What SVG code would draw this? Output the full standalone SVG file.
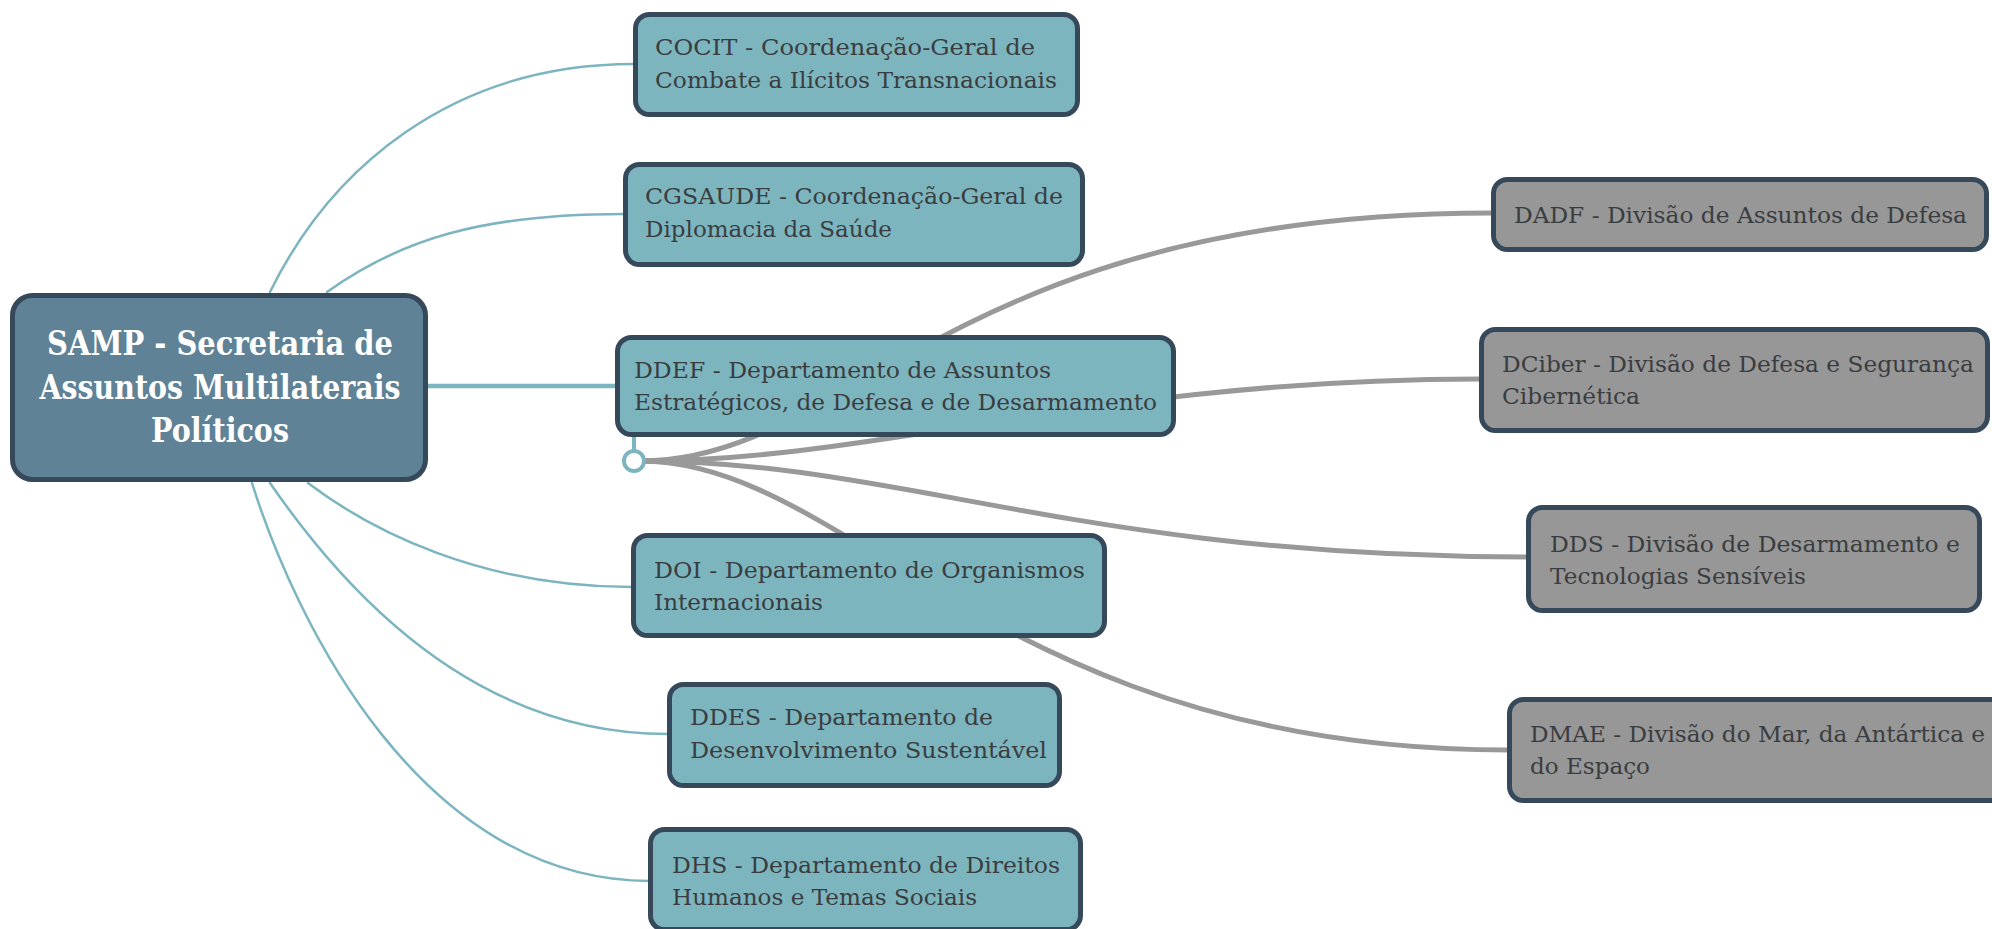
<svg xmlns="http://www.w3.org/2000/svg" width="1992" height="929" viewBox="0 0 1992 929">
<style>
.bg{fill:#ffffff}
.tl{fill:none;stroke:#7cb5c0;stroke-width:2.5;stroke-linecap:round}
.tlw{fill:none;stroke:#7cb5c0;stroke-width:4.5}
.gl{fill:none;stroke:#999999;stroke-width:5;stroke-linecap:round}
.node{stroke:#35495b;stroke-width:5}
.teal{fill:#7db5bf}
.gray{fill:#979797}
.root{fill:#5f8296}
.t{font-family:"DejaVu Serif","Liberation Serif",serif;font-size:23px;fill:#3a3d40}
.rt{font-family:"DejaVu Serif","Liberation Serif",serif;font-size:34px;font-weight:bold;fill:#ffffff;text-anchor:middle}
</style>
<rect class="bg" x="0" y="0" width="1992" height="929"/>
<g id="connectors">
  <path class="tl" d="M270 292 C330 170 450 64 634 64"/>
  <path class="tl" d="M327 292 C400 240 480 214 624 214"/>
  <path class="tlw" d="M428 386 L616 386"/>
  <path class="tl" d="M308 483 C370 530 480 587 632 587"/>
  <path class="tl" d="M270 483 C330 570 460 734 668 734"/>
  <path class="tl" d="M252 483 C295 620 420 881 650 881"/>
  <path class="gl" d="M640 461 C850 461 950 213 1492 213"/>
  <path class="gl" d="M640 461 C880 461 1100 379 1480 379"/>
  <path class="gl" d="M640 461 C900 461 1080 557 1527 557"/>
  <path class="gl" d="M640 461 C850 461 1000 750 1508 750"/>
  <path fill="none" stroke="#7cb5c0" stroke-width="4" d="M634 436 L634 451"/>
  <circle cx="634" cy="461" r="10" fill="#ffffff" stroke="#7cb5c0" stroke-width="4"/>
</g>
<g id="root">
  <rect class="node root" x="12.5" y="295.5" width="413" height="184" rx="20"/>
  <text class="rt" x="220" y="355" textLength="346" lengthAdjust="spacingAndGlyphs">SAMP - Secretaria de</text>
  <text class="rt" x="220" y="399" textLength="361" lengthAdjust="spacingAndGlyphs">Assuntos Multilaterais</text>
  <text class="rt" x="220" y="442" textLength="138" lengthAdjust="spacingAndGlyphs">Políticos</text>
</g>
<g id="cocit">
  <rect class="node teal" x="635.5" y="14.5" width="442" height="100" rx="14"/>
  <text class="t" x="655" y="55" textLength="380" lengthAdjust="spacingAndGlyphs">COCIT - Coordenação-Geral de</text>
  <text class="t" x="655" y="88" textLength="402" lengthAdjust="spacingAndGlyphs">Combate a Ilícitos Transnacionais</text>
</g>
<g id="cgsaude">
  <rect class="node teal" x="625.5" y="164.5" width="457" height="100" rx="14"/>
  <text class="t" x="645" y="204" textLength="418" lengthAdjust="spacingAndGlyphs">CGSAUDE - Coordenação-Geral de</text>
  <text class="t" x="645" y="237" textLength="247" lengthAdjust="spacingAndGlyphs">Diplomacia da Saúde</text>
</g>
<g id="ddef">
  <rect class="node teal" x="617.5" y="337.5" width="556" height="97" rx="14"/>
  <text class="t" x="634" y="378" textLength="417" lengthAdjust="spacingAndGlyphs">DDEF - Departamento de Assuntos</text>
  <text class="t" x="634" y="410" textLength="523" lengthAdjust="spacingAndGlyphs">Estratégicos, de Defesa e de Desarmamento</text>
</g>
<g id="doi">
  <rect class="node teal" x="633.5" y="535.5" width="471" height="100" rx="14"/>
  <text class="t" x="654" y="578" textLength="431" lengthAdjust="spacingAndGlyphs">DOI - Departamento de Organismos</text>
  <text class="t" x="654" y="610" textLength="169" lengthAdjust="spacingAndGlyphs">Internacionais</text>
</g>
<g id="ddes">
  <rect class="node teal" x="669.5" y="684.5" width="390" height="101" rx="14"/>
  <text class="t" x="690" y="725" textLength="303" lengthAdjust="spacingAndGlyphs">DDES - Departamento de</text>
  <text class="t" x="690" y="758" textLength="357" lengthAdjust="spacingAndGlyphs">Desenvolvimento Sustentável</text>
</g>
<g id="dhs">
  <rect class="node teal" x="650.5" y="829.5" width="430" height="100" rx="14"/>
  <text class="t" x="672" y="873" textLength="388" lengthAdjust="spacingAndGlyphs">DHS - Departamento de Direitos</text>
  <text class="t" x="672" y="905" textLength="305" lengthAdjust="spacingAndGlyphs">Humanos e Temas Sociais</text>
</g>
<g id="dadf">
  <rect class="node gray" x="1493.5" y="179.5" width="493" height="70" rx="14"/>
  <text class="t" x="1514" y="223" textLength="453" lengthAdjust="spacingAndGlyphs">DADF - Divisão de Assuntos de Defesa</text>
</g>
<g id="dciber">
  <rect class="node gray" x="1481.5" y="329.5" width="506" height="101" rx="14"/>
  <text class="t" x="1502" y="372" textLength="472" lengthAdjust="spacingAndGlyphs">DCiber - Divisão de Defesa e Segurança</text>
  <text class="t" x="1502" y="404" textLength="138" lengthAdjust="spacingAndGlyphs">Cibernética</text>
</g>
<g id="dds">
  <rect class="node gray" x="1528.5" y="507.5" width="451" height="103" rx="14"/>
  <text class="t" x="1550" y="552" textLength="410" lengthAdjust="spacingAndGlyphs">DDS - Divisão de Desarmamento e</text>
  <text class="t" x="1550" y="584" textLength="256" lengthAdjust="spacingAndGlyphs">Tecnologias Sensíveis</text>
</g>
<g id="dmae">
  <rect class="node gray" x="1509.5" y="699.5" width="500" height="101" rx="14"/>
  <text class="t" x="1530" y="742" textLength="455" lengthAdjust="spacingAndGlyphs">DMAE - Divisão do Mar, da Antártica e</text>
  <text class="t" x="1530" y="774" textLength="120" lengthAdjust="spacingAndGlyphs">do Espaço</text>
</g>
</svg>
